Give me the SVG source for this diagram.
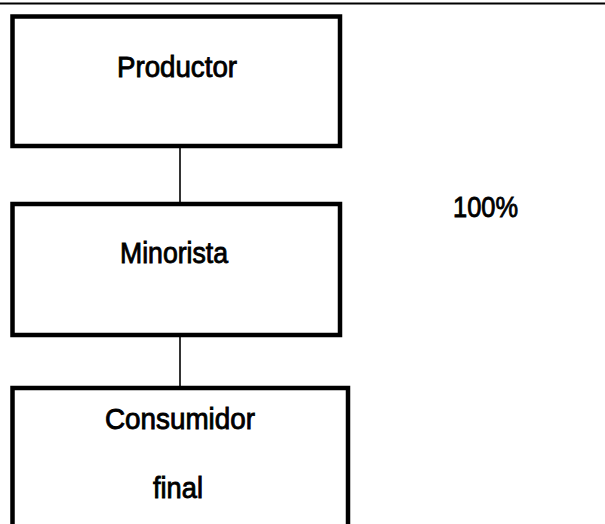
<svg xmlns="http://www.w3.org/2000/svg" width="605" height="524" viewBox="0 0 605 524">
<style>
.box{fill:#fff;stroke:#000;stroke-width:4.5}
.lbl{font-family:"Liberation Sans",Arial,sans-serif;font-size:30px;fill:#000;stroke:#000;stroke-width:0.9}
.conn{stroke:#000;stroke-width:1.6;fill:none}
</style>
<rect width="605" height="524" fill="#fff"/>
<line x1="0" y1="3.5" x2="605" y2="3.5" stroke="#000" stroke-width="2"/>
<g id="connectors">
<line class="conn" x1="180" y1="148" x2="180" y2="203"/>
<line class="conn" x1="180" y1="336" x2="180" y2="387"/>
</g>
<g id="productor">
<rect class="box" x="12.5" y="16.5" width="327.5" height="129.5"/>
<text class="lbl" x="117" y="77" textLength="120" lengthAdjust="spacingAndGlyphs">Productor</text>
</g>
<g id="minorista">
<rect class="box" x="12.5" y="204" width="327.5" height="131"/>
<text class="lbl" x="120" y="263" textLength="108" lengthAdjust="spacingAndGlyphs">Minorista</text>
</g>
<g id="consumidor">
<rect class="box" x="12.5" y="388" width="335.5" height="160"/>
<text class="lbl" x="105" y="429" textLength="150" lengthAdjust="spacingAndGlyphs">Consumidor</text>
<text class="lbl" x="153" y="498" textLength="50" lengthAdjust="spacingAndGlyphs">final</text>
</g>
<g id="pct">
<text class="lbl" x="453" y="217" textLength="65" lengthAdjust="spacingAndGlyphs">100%</text>
</g>
</svg>
